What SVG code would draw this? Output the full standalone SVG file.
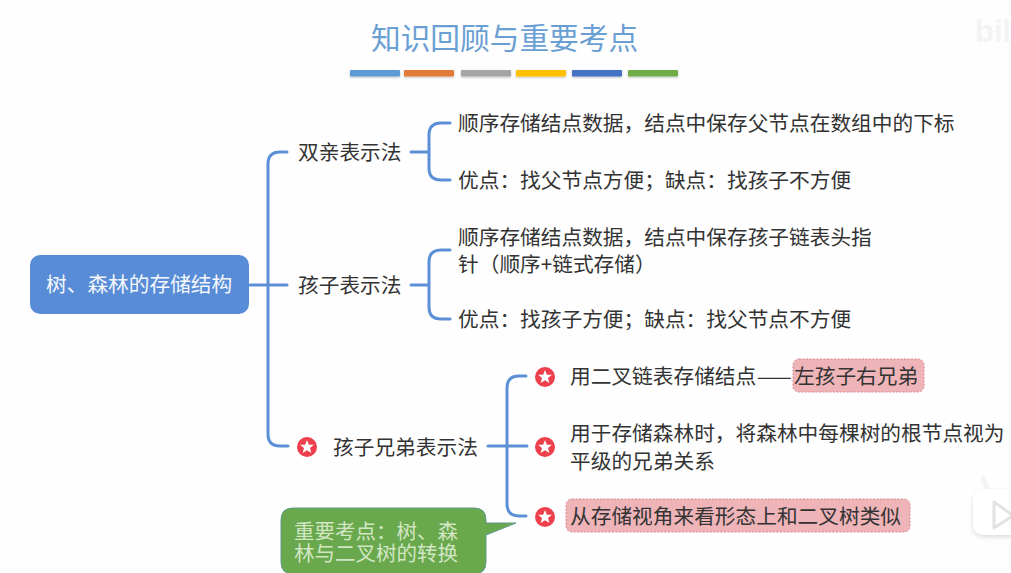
<svg xmlns="http://www.w3.org/2000/svg" width="1011" height="573" viewBox="0 0 1011 573">
<style>
text{font-family:"Noto Sans CJK SC","Noto Sans",sans-serif;font-size:20.7px;fill:#333}
.conn{fill:none;stroke:#5b8fd6;stroke-width:3;stroke-linecap:round}
.hl{fill:#eeb4b8;stroke:#d98a92;stroke-width:1;stroke-dasharray:2 1.5}
.star circle{fill:#ee3f4d}
.star polygon{fill:#fff}
</style>
<defs>
<g id="s" class="star"><circle r="10"/><polygon points="0,-7 1.9,-2.3 6.9,-2.2 3,1 4.3,6 0,3.2 -4.3,6 -3,1 -6.9,-2.2 -1.9,-2.3"/></g>
<filter id="sh" x="-20%" y="-20%" width="140%" height="140%"><feDropShadow dx="0" dy="2" stdDeviation="2" flood-color="#000" flood-opacity="0.14"/></filter>
<filter id="bs" x="-5%" y="-40%" width="110%" height="200%"><feDropShadow dx="0" dy="1" stdDeviation="1" flood-color="#000" flood-opacity="0.25"/></filter>
</defs>
<rect width="1011" height="573" fill="#fefefe"/>
<g id="watermark">
<text x="975" y="42" style="font-family:'Liberation Sans',sans-serif;font-size:31px;font-weight:700;fill:#f3f3f5">bil</text>
<path d="M988 490 L983 478" stroke="#f4f4f4" stroke-width="5" stroke-linecap="round"/>
<rect x="973" y="489" width="50" height="46" rx="10" fill="#fff" filter="url(#sh)"/>
<path d="M994 502 L1011 514 V517 L994 528 Z" fill="#fff" stroke="#e2e2e2" stroke-width="3" stroke-linejoin="round"/>
</g>
<g id="title">
<text x="371" y="49" style="font-size:29.7px;fill:#6a9fd4">知识回顾与重要考点</text>
<g filter="url(#bs)">
<rect x="350" y="70" width="50" height="6.500" rx="1" fill="#5b9bd5"/>
<rect x="404" y="70" width="50" height="6.500" rx="1" fill="#e07b39"/>
<rect x="461" y="70" width="50" height="6.500" rx="1" fill="#a5a5a5"/>
<rect x="516" y="70" width="50" height="6.500" rx="1" fill="#ffc000"/>
<rect x="572" y="70" width="50" height="6.500" rx="1" fill="#4472c4"/>
<rect x="628" y="70" width="50" height="6.500" rx="1" fill="#70ad47"/>
</g>
</g>
<g id="connectors">
<path class="conn" d="M250 285H287M287 152H280Q268 152 268 164V434Q268 446 280 446H288"/>
<path class="conn" d="M411 152H429M450 123H441Q429 123 429 135V168Q429 180 441 180H450"/>
<path class="conn" d="M411 285H429M450 250H441Q429 250 429 262V307Q429 319 441 319H450"/>
<path class="conn" d="M488 446H527M526 376H519Q507 376 507 388V504Q507 516 519 516H526"/>
</g>
<g id="root">
<rect x="30" y="255" width="219" height="59" rx="10" fill="#588cd6"/>
<text x="46" y="292" style="fill:#f4f7fc">树、森林的存储结构</text>
</g>
<g id="n-parent"><text x="298" y="160">双亲表示法</text></g>
<g id="n-parent-1"><text x="458" y="131">顺序存储结点数据，结点中保存父节点在数组中的下标</text></g>
<g id="n-parent-2"><text x="458" y="188">优点：找父节点方便；缺点：找孩子不方便</text></g>
<g id="n-child"><text x="298" y="293">孩子表示法</text></g>
<g id="n-child-1"><text x="458" y="245">顺序存储结点数据，结点中保存孩子链表头指<tspan x="458" y="272">针（顺序+链式存储）</tspan></text></g>
<g id="n-child-2"><text x="458" y="327">优点：找孩子方便；缺点：找父节点不方便</text></g>
<g id="n-sibling"><use href="#s" x="307" y="447"/><text x="333" y="455">孩子兄弟表示法</text></g>
<g id="n-sib-1"><use href="#s" x="545" y="377"/><rect class="hl" x="793" y="359" width="131" height="33" rx="6"/><text x="570" y="384">用二叉链表存储结点<tspan x="757">——</tspan><tspan x="794">左孩子右兄弟</tspan></text></g>
<g id="n-sib-2"><use href="#s" x="545" y="447"/><text x="570" y="441">用于存储森林时，将森林中每棵树的根节点视为<tspan x="570" y="469">平级的兄弟关系</tspan></text></g>
<g id="n-sib-3"><use href="#s" x="545" y="517"/><rect class="hl" x="566" y="499" width="344" height="33" rx="6"/><text x="570" y="524">从存储视角来看形态上和二叉树类似</text></g>
<g id="callout">
<path d="M293 508H474Q486 508 486 520V523L516 523L486 535V562Q486 574 474 574H293Q281 574 281 562V520Q281 508 293 508Z" fill="#69a84c" stroke="#5f9a8a" stroke-width="1"/>
<text x="294" y="539" style="font-size:20.5px;fill:#d3e6c4">重要考点：树、森<tspan x="294" y="561">林与二叉树的转换</tspan></text>
</g>
</svg>
